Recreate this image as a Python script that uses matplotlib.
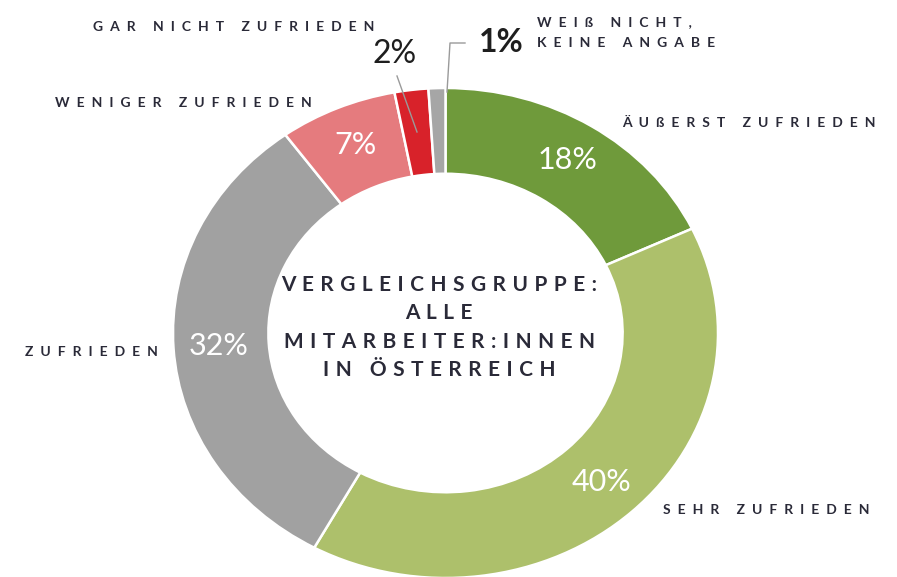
import matplotlib
matplotlib.use("Agg")
import matplotlib.pyplot as plt
from matplotlib.lines import Line2D

W, H = 897, 577

categories = ["ÄUßERST ZUFRIEDEN", "SEHR ZUFRIEDEN", "ZUFRIEDEN",
              "WENIGER ZUFRIEDEN", "GAR NICHT ZUFRIEDEN", "WEIß NICHT,\nKEINE ANGABE"]
values = [18, 40, 32, 7, 2, 1]
colors = ["#6f9a3b", "#adc06b", "#a1a1a1", "#e57b7e", "#d8222a", "#a6a6a6"]
center_lines = ["VERGLEICHSGRUPPE:", "ALLE", "MITARBEITER:INNEN", "IN ÖSTERREICH"]

FAM = ["Lato", "DejaVu Sans"]
TXT = "#2a2a38"


def spaced(s, sep="\u2009"):
    return sep.join(list(s))


def fp(x, y):
    return (x / W, 1 - y / H)


fig = plt.figure(figsize=(W / 100, H / 100), dpi=100)
fig.patch.set_facecolor("white")

# axes occupying the ellipse's bounding box
left, right, top, bottom = 173, 718, 88, 578
ax = fig.add_axes([left / W, 1 - bottom / H, (right - left) / W, (bottom - top) / H])

wedges, texts, autotexts = ax.pie(
    values, colors=colors, startangle=90, counterclock=False,
    radius=1.0, pctdistance=0.835,
    autopct=lambda p: f"{p:.0f}%" if p >= 5 else "",
    wedgeprops=dict(width=0.35, edgecolor="white", linewidth=1.8),
    textprops=dict(color="white", fontsize=22, family=FAM),
)
ax.set_aspect("auto")
ax.set_xlim(-1, 1)
ax.set_ylim(-1, 1)
ax.axis("off")

# center text
for yy, line in zip([285, 313, 342, 370], center_lines):
    fig.text(*fp(439, yy), spaced(line, "\u2009\u2009\u200a"), ha="center", va="center",
             fontsize=15, fontweight="bold", color=TXT, family=FAM)

# outer category labels
LS = "\u2002"
lab_kw = dict(fontsize=10, fontweight="bold", color=TXT, family=FAM, va="center")
fig.text(*fp(93, 27), spaced(categories[4], LS), ha="left", **lab_kw)
fig.text(*fp(55, 103), spaced(categories[3], LS), ha="left", **lab_kw)
fig.text(*fp(25, 352), spaced(categories[2], LS), ha="left", **lab_kw)
fig.text(*fp(622, 123), spaced(categories[0], LS), ha="left", **lab_kw)
fig.text(*fp(663, 510), spaced(categories[1], LS), ha="left", **lab_kw)
l1, l2 = categories[5].split("\n")
fig.text(*fp(537, 22), spaced(l1, LS), ha="left", **lab_kw)
fig.text(*fp(537, 43), spaced(l2, LS), ha="left", **lab_kw)

# small percentages outside
fig.text(*fp(395, 54), f"{values[4]}%", ha="center", va="center",
         fontsize=23, color="#1e1e1e", family=FAM)
fig.text(*fp(501, 43), f"{values[5]}%", ha="center", va="center",
         fontsize=23, fontweight="bold", color="#1e1e1e", family=FAM)

# leader lines
fig.add_artist(Line2D([397 / W, 417 / W], [1 - 76 / H, 1 - 132 / H],
                      transform=fig.transFigure, color="#9a9a9a", lw=1.0))
fig.add_artist(Line2D([447 / W, 450 / W, 465 / W], [1 - 92 / H, 1 - 43 / H, 1 - 43 / H],
                      transform=fig.transFigure, color="#9a9a9a", lw=1.0))

fig.savefig("out.png", dpi=100, facecolor="white")
